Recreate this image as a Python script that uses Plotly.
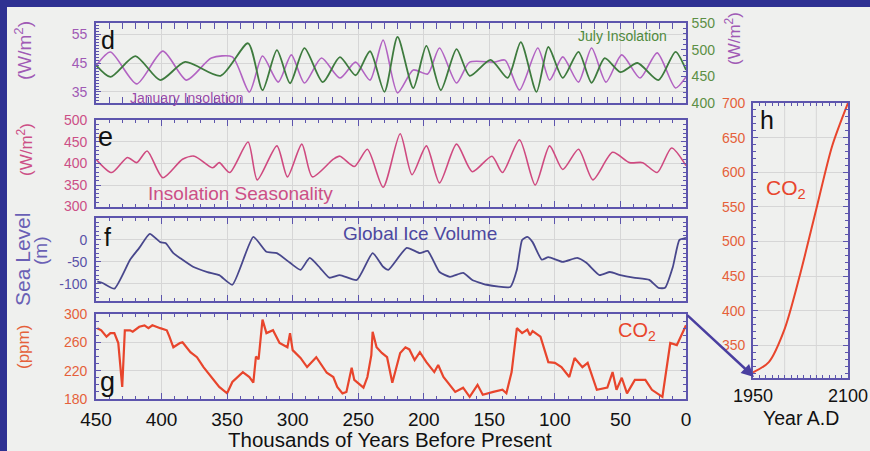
import plotly.graph_objects as go

# ---------------- data ----------------
# panel d: January insolation (left axis, W/m2) and July insolation (right axis, W/m2)
jan_kyr = [450, 439, 419, 399, 381, 362, 346, 333, 323, 311, 301, 291, 278, 264, 252, 241, 231, 220, 208, 197,
           188, 175, 165, 146, 138, 127, 113, 104, 94, 82, 72, 61, 49, 35, 22, 8, 0]
jan_val = [44.0, 48.8, 37.8, 49.1, 39.1, 46.7, 47.1, 35.0, 47.4, 38.4, 47.8, 38.1, 46.7, 39.8, 45.3, 39.1, 52.9, 34.7,
           42.6, 41.2, 50.2, 38.1, 45.3, 45.3, 46.0, 35.7, 50.2, 39.1, 47.1, 38.4, 50.2, 38.4, 47.8, 39.8, 48.5, 36.4, 40.2]

jul_kyr = [450, 439, 420, 401, 382, 355, 334, 323, 312, 302, 291, 277, 264, 252, 241, 230, 220, 208, 198, 187,
           175, 165, 149, 136, 126, 114, 105, 94, 82, 72, 62, 50, 37, 21, 8, 0]
jul_val = [471, 449, 488, 443, 477, 451, 512, 424, 499, 437, 503, 439, 486, 452, 497, 421, 524, 428, 507, 424,
           501, 451, 481, 447, 514, 421, 505, 447, 496, 438, 484, 458, 475, 443, 496, 462]

# panel e: insolation seasonality (W/m2)
seas_kyr = [450, 438, 426, 419, 411, 399, 384, 375, 361, 356, 348, 334, 327, 312, 304, 293, 285, 269, 264, 253,
            243, 231, 218, 209, 198, 188, 175, 163, 148, 140, 127, 115, 104, 94, 82, 71, 56, 43, 33, 22, 11, 0]
seas_val = [410, 379, 414, 402, 429, 367, 410, 417, 390, 402, 379, 450, 362, 441, 369, 445, 369, 410, 417, 393,
            433, 345, 469, 374, 441, 355, 445, 381, 417, 379, 455, 350, 441, 386, 433, 362, 426, 402, 402, 379, 436, 395]

# panel f: global ice volume as sea level (m)
sea_kyr = [449, 445, 436, 424, 417, 409, 401, 397, 391, 386, 376, 365, 356, 346, 330, 320, 312, 302, 294, 287,
           279, 272, 264, 251, 239, 231, 227, 213, 203, 197, 188, 180, 170, 163, 152, 134, 129, 125, 121, 117,
           110, 105, 94, 83, 76, 66, 58, 50, 40, 28, 21, 16, 10, 5, 0]
sea_val = [-95, -98, -111, -45, -18, 14, -5, -7, -30, -41, -61, -73, -80, -102, 7, -27, -30, -52, -68, -41,
           -64, -86, -80, -91, -30, -61, -68, -18, -30, -25, -73, -84, -75, -91, -102, -107, -68, 0, 7, -5,
           -45, -39, -50, -41, -52, -80, -73, -80, -86, -91, -109, -109, -61, 0, 5]

# panel g: CO2 (ppm)
co2_kyr = [449, 446, 442, 439, 436, 433, 430, 428, 424, 422, 417, 413, 410, 407, 401, 396, 394, 391, 386, 384,
           378, 373, 368, 363, 356, 350, 346, 338, 333, 330, 328, 326, 323, 320, 315, 310, 304, 302, 300, 294,
           289, 282, 274, 269, 266, 262, 259, 255, 253, 246, 243, 240, 239, 236, 232, 228, 224, 218, 214, 211,
           207, 203, 198, 192, 189, 185, 182, 176, 170, 165, 159, 155, 147, 140, 137, 133, 129, 125, 121, 119,
           117, 114, 111, 105, 100, 95, 89, 85, 79, 75, 68, 60, 56, 53, 49, 45, 39, 31, 26, 18, 12, 7, 3, 0]
co2_val = [280, 277, 268, 273, 273, 259, 197, 277, 277, 275, 282, 284, 280, 284, 280, 277, 268, 253, 259, 260,
           246, 239, 225, 214, 197, 188, 204, 218, 211, 203, 240, 236, 292, 273, 277, 259, 253, 273, 249, 238,
           225, 239, 217, 211, 197, 188, 190, 224, 207, 196, 211, 242, 275, 253, 245, 239, 203, 245, 253, 250,
           235, 246, 232, 218, 228, 211, 204, 190, 196, 183, 200, 186, 190, 193, 188, 218, 280, 273, 278, 270,
           276, 272, 268, 232, 231, 225, 211, 238, 225, 231, 193, 196, 218, 193, 210, 188, 207, 207, 193, 183,
           259, 256, 273, 284]

# panel h: projected CO2 (ppm)
fut_year = [1950, 1975, 2000, 2025, 2050, 2075, 2100]
fut_val = [311, 326, 374, 455, 547, 638, 700]

# tick labels
kyr_ticks = [450, 400, 350, 300, 250, 200, 150, 100, 50, 0]
sea_ticks = [-100, -50, 0]
sea_tick_text = ["-100", "-50", "0"]
year_ticks = [1950, 2100]
year_grid = [2000, 2050]

# ---------------- styling ----------------
W, H = 870, 451
def PX(x): return x / W
def PY(y): return 1 - y / H

BLUE_BG = "#2e3192"
PANEL = "#eff0ee"
AX = "#5d55ad"
GRID = "#d6d6d6"
JAN = "#b263c2"
JUL = "#3e7b3e"
SEAS = "#cf4a80"
ICE = "#48478c"
CO2 = "#e8452c"
FONT = "Liberation Sans, Arial, Helvetica, sans-serif"

fig = go.Figure()
fig.add_trace(go.Scatter(x=jan_kyr, y=jan_val, xaxis="x", yaxis="y", mode="lines",
                         line=dict(color=JAN, width=1.6, shape="spline", smoothing=0.7)))
fig.add_trace(go.Scatter(x=jul_kyr, y=jul_val, xaxis="x", yaxis="y6", mode="lines",
                         line=dict(color=JUL, width=1.8, shape="spline", smoothing=0.7)))
fig.add_trace(go.Scatter(x=seas_kyr, y=seas_val, xaxis="x2", yaxis="y2", mode="lines",
                         line=dict(color=SEAS, width=1.6, shape="spline", smoothing=0.7)))
fig.add_trace(go.Scatter(x=sea_kyr, y=sea_val, xaxis="x3", yaxis="y3", mode="lines",
                         line=dict(color=ICE, width=1.8, shape="spline", smoothing=0.5)))
fig.add_trace(go.Scatter(x=co2_kyr, y=co2_val, xaxis="x4", yaxis="y4", mode="lines",
                         line=dict(color=CO2, width=2.2)))
fig.add_trace(go.Scatter(x=fut_year, y=fut_val, xaxis="x5", yaxis="y5", mode="lines",
                         line=dict(color=CO2, width=2, shape="spline", smoothing=0.8)))

XD = [PX(96), PX(686)]
def xax(anchor, labels=False):
    return dict(domain=XD, anchor=anchor, range=[450, 0], showline=True, linecolor=AX, linewidth=1.6,
                mirror="allticks", ticks="inside", ticklen=6, tickcolor=AX, tickwidth=1.2,
                tickvals=kyr_ticks, showticklabels=labels, automargin=False, ticklabelstandoff=2,
                tickfont=dict(size=19, color="#111111", family=FONT),
                showgrid=True, gridcolor=GRID, gridwidth=1, zeroline=False,
                minor=dict(ticks="inside", ticklen=3, dtick=10, tick0=0, tickcolor=AX, showgrid=False))

def yax(anchor, dom, rng, vals, color, mdt, mirror="allticks", size=14, standoff=4, text=None):
    d = dict(domain=dom, anchor=anchor, range=rng, tickvals=vals, showline=True, linecolor=AX,
             linewidth=1.6, mirror=mirror, ticks="inside", ticklen=5, tickcolor=AX, automargin=False,
             ticklabelstandoff=standoff,
             tickfont=dict(size=size, color=color, family=FONT),
             showgrid=True, gridcolor=GRID, gridwidth=1, zeroline=False,
             minor=dict(ticks="inside", ticklen=3, dtick=mdt, tickcolor=AX, showgrid=False))
    if text is not None:
        d["ticktext"] = text
    return d

layout = dict(
    width=W, height=H, autosize=False, margin=dict(l=0, r=0, t=0, b=0, pad=0, autoexpand=False),
    paper_bgcolor=BLUE_BG, plot_bgcolor=PANEL, showlegend=False,
    font=dict(family=FONT),
    xaxis=xax("y"), xaxis2=xax("y2"), xaxis3=xax("y3"), xaxis4=xax("y4", labels=True),
    yaxis=yax("x", [PY(103), PY(23)], [31.2, 58.8], [35, 45, 55], "#a05ab5", 1, mirror=False),
    yaxis6=dict(overlaying="y", side="right", anchor="x", range=[400, 550], tickvals=[400, 450, 500, 550],
                showline=True, linecolor=AX, linewidth=1.6, ticks="inside", ticklen=5, tickcolor=AX,
                automargin=False, ticklabelstandoff=1,
                tickfont=dict(size=14, color="#5c8f45", family=FONT), showgrid=False, zeroline=False,
                minor=dict(ticks="inside", ticklen=3, dtick=10, tickcolor=AX)),
    yaxis2=yax("x2", [PY(207), PY(120)], [299, 501], [300, 350, 400, 450, 500], "#cc4f86", 10),
    yaxis3=yax("x3", [PY(301), PY(218)], [-139, 50], sea_ticks, "#5a52a8", 10, text=sea_tick_text),
    yaxis4=yax("x4", [PY(399), PY(314)], [180, 300], [180, 220, 260, 300], "#e5603a", 10),
    xaxis5=dict(domain=[PX(753), PX(848)], anchor="y5", range=[1950, 2100], tickvals=year_ticks,
                showline=True, linecolor=AX, linewidth=1.6, mirror="allticks", automargin=False,
                ticks="inside", ticklen=5, tickcolor=AX, tickfont=dict(size=18, color="#111111", family=FONT),
                showgrid=False, zeroline=False, ticklabelstandoff=1,
                minor=dict(ticks="inside", ticklen=3, dtick=10, tickcolor=AX, showgrid=False)),
    yaxis5=yax("x5", [PY(378), PY(103)], [303, 700], [350, 400, 450, 500, 550, 600, 650, 700], "#e5603a", 10,
               standoff=3),
)
fig.update_layout(**layout)

# light panel behind everything
fig.add_shape(type="rect", xref="paper", yref="paper", x0=PX(7), x1=1.0, y0=0.0, y1=PY(7),
              fillcolor=PANEL, line=dict(width=0), layer="below")
# vertical grid lines of the projection panel
for yr in year_grid:
    fig.add_shape(type="line", xref="x5", yref="y5 domain", x0=yr, x1=yr, y0=0, y1=1,
                  line=dict(color=GRID, width=1), layer="below")

def ann(text, x, y, size, color, angle=0, **kw):
    fig.add_annotation(text=text, x=PX(x), y=PY(y), xref="paper", yref="paper", showarrow=False,
                       font=dict(size=size, color=color, family=FONT), textangle=angle,
                       xanchor="center", yanchor="middle", **kw)

# panel letters
ann("d", 108, 40, 25, "#111111")
ann("e", 105, 137, 27, "#111111")
ann("f", 107, 237, 25, "#111111")
ann("g", 107, 382, 27, "#111111")
ann("h", 767, 120, 25, "#111111")

# series labels
ann("January Insolation", 187, 98, 14, "#9c4bab")
ann("July Insolation", 622, 36, 14, "#4f8a3c")
ann("Insolation Seasonality", 240, 193, 19, "#cc4f86")
ann("Global Ice Volume", 420, 233, 19, "#4d48a0")
ann("CO<sub>2</sub>", 637, 331, 20, CO2)
ann("CO<sub>2</sub>", 786, 189, 21, CO2)

# axis titles
ann("(W/m<sup>2</sup>)", 23, 51, 19, "#a05ab5", angle=-90)
ann("(W/m<sup>2</sup>)", 25, 150, 17, "#cc4f86", angle=-90)
ann("Sea Level", 22, 260, 21, "#6a60b5", angle=-90)
ann("(m)", 40, 251, 19, "#6a60b5", angle=-90)
ann("(ppm)", 23, 347, 17, "#e5603a", angle=-90)
ann("(W/m<sup>2</sup>)", 733, 39, 17, "#a05ab5", angle=-90)
ann("Thousands of Years Before Present", 390, 439, 20.5, "#111111")
ann("Year A.D", 801, 418, 19.5, "#111111")

# arrow from present-day CO2 to the projection panel
fig.add_annotation(x=PX(754), y=PY(377), xref="paper", yref="paper", ax=-68, ay=-63,
                   axref="pixel", ayref="pixel", showarrow=True, arrowhead=2, arrowsize=1,
                   arrowwidth=2.5, arrowcolor="#4a3fa0", text="")

fig.write_html("out.html")
